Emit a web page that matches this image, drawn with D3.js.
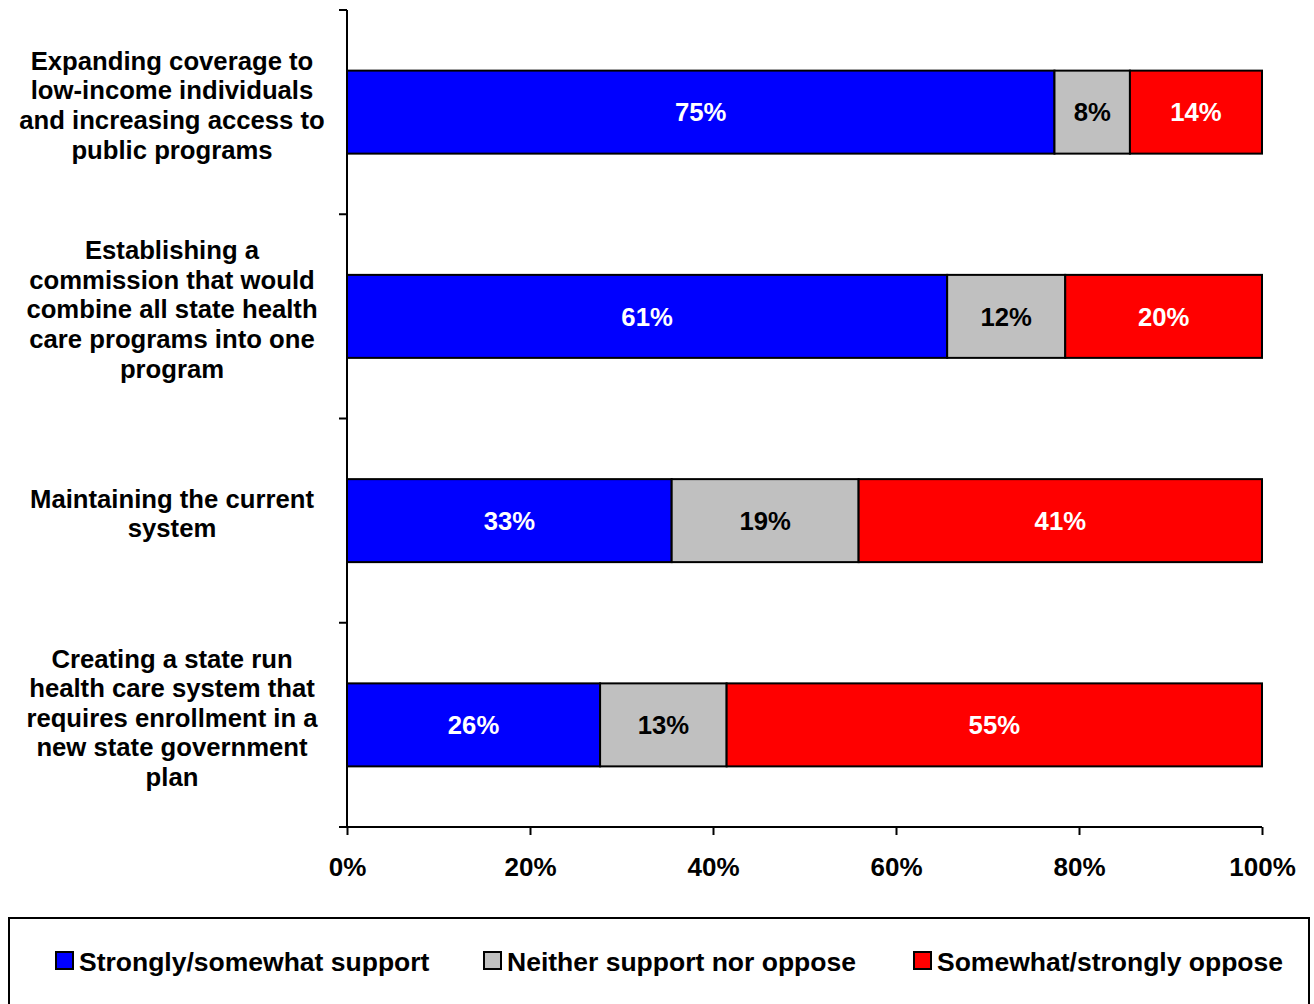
<!DOCTYPE html>
<html>
<head>
<meta charset="utf-8">
<script src="https://cdn.jsdelivr.net/npm/d3@7"></script>
<style>
  html, body { margin: 0; padding: 0; background: #fff; }
  svg { display: block; font-family: "Liberation Sans", Arial, sans-serif; font-weight: bold; }
</style>
</head>
<body>
<svg id="chart" width="1314" height="1004"></svg>
<script>
// Proposals (each label split into its display lines)
const categories = [
  ["Expanding coverage to", "low-income individuals", "and increasing access to", "public programs"],
  ["Establishing a", "commission that would", "combine all state health", "care programs into one", "program"],
  ["Maintaining the current", "system"],
  ["Creating a state run", "health care system that", "requires enrollment in a", "new state government", "plan"]
];
const seriesNames = ["Strongly/somewhat support", "Neither support nor oppose", "Somewhat/strongly oppose"];
const seriesColors = ["#0000FF", "#C0C0C0", "#FF0000"];
const labelColors = ["#FFFFFF", "#000000", "#FFFFFF"];
const support = [75, 61, 33, 26];
const neither = [8, 12, 19, 13];
const oppose = [14, 20, 41, 55];
const xTicks = [0, 20, 40, 60, 80, 100];

const svg = d3.select("#chart");
const margin = { left: 347, right: 1262, top: 10, bottom: 827 };
const FONT = 25.7;

const x = d3.scaleLinear().domain([0, 100]).range([margin.left, margin.right]);
const y = d3.scaleBand().domain(d3.range(categories.length)).range([margin.top, margin.bottom]).paddingInner(0).paddingOuter(0);
const barH = 83;

// 100% stacked: each row is shared out over its own total
const rows = categories.map((c, i) => {
  const vals = [support[i], neither[i], oppose[i]];
  const total = d3.sum(vals);
  let acc = 0;
  return vals.map((v, k) => {
    const s = { row: i, k, v, x0: acc / total * 100, x1: (acc + v) / total * 100 };
    acc += v;
    return s;
  });
});

const barsG = svg.append("g");
rows.forEach((segs, i) => {
  const yc = y(i) + y.bandwidth() / 2;
  const g = barsG.append("g");
  g.selectAll("rect").data(segs).join("rect")
    .attr("x", d => x(d.x0))
    .attr("y", yc - barH / 2)
    .attr("width", d => x(d.x1) - x(d.x0))
    .attr("height", barH)
    .attr("fill", d => seriesColors[d.k])
    .attr("stroke", "#000")
    .attr("stroke-width", 2);
  g.selectAll("text").data(segs).join("text")
    .attr("x", d => (x(d.x0) + x(d.x1)) / 2)
    .attr("y", yc + FONT * 0.36)
    .attr("text-anchor", "middle")
    .attr("font-size", FONT)
    .attr("fill", d => labelColors[d.k])
    .text(d => d.v + "%");
});

// Value axis
const xAxis = d3.axisBottom(x).tickValues(xTicks).tickSize(8).tickFormat(d => d + "%");
const xg = svg.append("g").attr("transform", `translate(0,${margin.bottom})`).call(xAxis);
xg.select(".domain").attr("stroke", "#000").attr("stroke-width", 2).attr("d", `M${margin.left},0H${margin.right}`);
xg.selectAll(".tick line").attr("stroke", "#000").attr("stroke-width", 2);
xg.selectAll(".tick text").attr("font-size", 26).attr("font-family", "Liberation Sans, Arial, sans-serif")
  .attr("font-weight", "bold").attr("fill", "#000").attr("y", 0).attr("dy", null).attr("transform", "translate(0,49)");

// Category axis: line with ticks at band boundaries
const yg = svg.append("g");
yg.append("line").attr("x1", margin.left).attr("x2", margin.left)
  .attr("y1", margin.top).attr("y2", margin.bottom).attr("stroke", "#000").attr("stroke-width", 2);
const bounds = d3.range(categories.length + 1).map(i => margin.top + i * y.step());
yg.selectAll("line.tk").data(bounds).join("line").attr("class", "tk")
  .attr("x1", margin.left - 8).attr("x2", margin.left)
  .attr("y1", d => d).attr("y2", d => d)
  .attr("stroke", "#000").attr("stroke-width", 2);

// Category labels, centred against each band
const lineH = 29.6;
categories.forEach((lines, i) => {
  const yc = y(i) + y.bandwidth() / 2;
  const first = yc + 2 - (lines.length - 1) * lineH / 2;
  const t = svg.append("text").attr("text-anchor", "middle").attr("font-size", FONT).attr("fill", "#000");
  lines.forEach((ln, j) => {
    t.append("tspan").attr("x", 172).attr("y", first + j * lineH).text(ln);
  });
});

// Legend
const lg = svg.append("g");
lg.append("rect").attr("x", 9).attr("y", 918).attr("width", 1300).attr("height", 100)
  .attr("fill", "#fff").attr("stroke", "#000").attr("stroke-width", 2);
const legendX = [56, 484, 914];
seriesNames.forEach((name, k) => {
  lg.append("rect").attr("x", legendX[k]).attr("y", 952).attr("width", 17).attr("height", 17)
    .attr("fill", seriesColors[k]).attr("stroke", "#000").attr("stroke-width", 2);
  lg.append("text").attr("x", legendX[k] + 23).attr("y", 971).attr("font-size", 26.5).attr("fill", "#000").text(name);
});
</script>
</body>
</html>
